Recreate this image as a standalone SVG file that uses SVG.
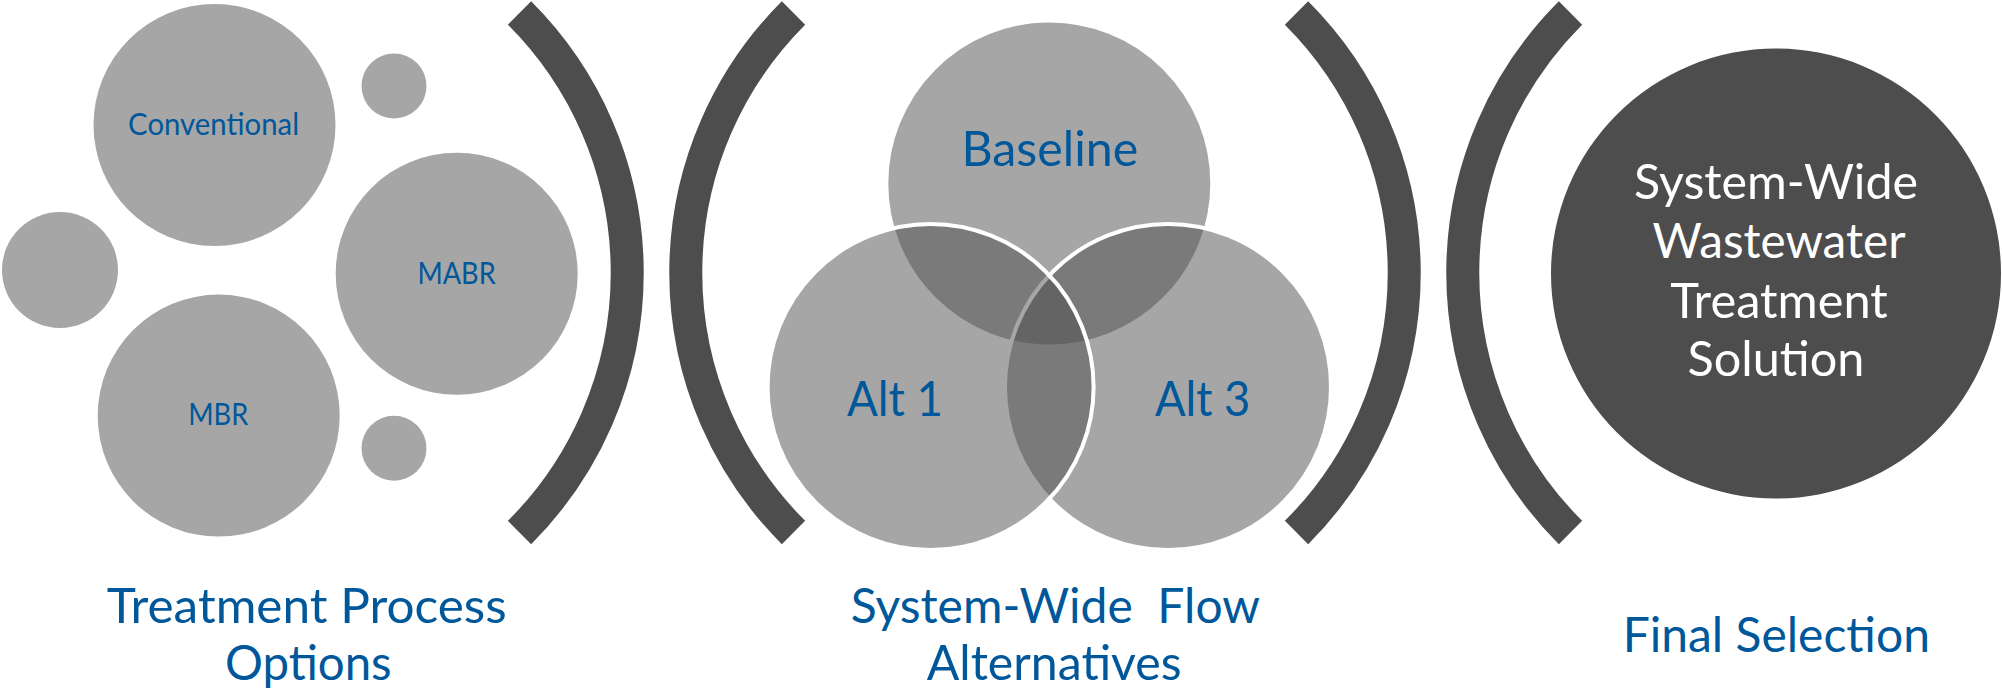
<svg xmlns="http://www.w3.org/2000/svg" width="2002" height="693" viewBox="0 0 2002 693">
<style>
.g{fill:#A6A6A6}
.v{fill:#4D4D4D;fill-opacity:0.5;stroke:#FFFFFF;stroke-width:4}
.br{fill:none;stroke:#4D4D4D;stroke-width:33;stroke-linecap:butt}
.t{font-family:Lato,"Liberation Sans",sans-serif;fill:#00579A;text-anchor:middle}
.s{font-size:31px}
.b{font-size:48px}
.w{font-family:Lato,"Liberation Sans",sans-serif;fill:#FFFFFF;text-anchor:middle;font-size:48px}
</style>
<rect width="2002" height="693" fill="#FFFFFF"/>
<g id="treatment-options">
  <g id="conventional"><circle class="g" cx="214.5" cy="125" r="121"/><text class="t s" x="213.6" y="135" textLength="171" lengthAdjust="spacingAndGlyphs">Conventional</text></g>
  <g id="small-top"><circle class="g" cx="394" cy="86" r="32.5"/></g>
  <g id="small-left"><circle class="g" cx="60" cy="270" r="58"/></g>
  <g id="mabr"><circle class="g" cx="456.7" cy="273.7" r="121"/><text class="t s" x="456.6" y="283.6" textLength="78.3" lengthAdjust="spacingAndGlyphs">MABR</text></g>
  <g id="mbr"><circle class="g" cx="218.7" cy="415.6" r="121"/><text class="t s" x="218.3" y="425" textLength="60.1" lengthAdjust="spacingAndGlyphs">MBR</text></g>
  <g id="small-bottom"><circle class="g" cx="394" cy="448.3" r="32.5"/></g>
</g>
<g id="brackets">
  <path class="br" d="M519.5 13 A367 367 0 0 1 519.5 532.5"/>
  <path class="br" d="M793.5 13 A367 367 0 0 0 793.5 532.5"/>
  <path class="br" d="M1296.5 13 A367 367 0 0 1 1296.5 532.5"/>
  <path class="br" d="M1570.5 13 A367 367 0 0 0 1570.5 532.5"/>
</g>
<g id="venn">
  <g id="baseline"><circle class="v" cx="1049.3" cy="183.5" r="163"/></g>
  <g id="alt3"><circle class="v" cx="1168" cy="387" r="163"/></g>
  <g id="alt1"><circle class="v" cx="930.6" cy="387" r="163"/></g>
  <text class="t b" x="1049.9" y="165.8" textLength="176.8" lengthAdjust="spacingAndGlyphs">Baseline</text>
  <text class="t b" x="895" y="415.6" textLength="96" lengthAdjust="spacingAndGlyphs">Alt 1</text>
  <text class="t b" x="1202.6" y="415.6" textLength="95.4" lengthAdjust="spacingAndGlyphs">Alt 3</text>
</g>
<g id="final-solution">
  <circle cx="1776" cy="273.5" r="225" fill="#4D4D4D"/>
  <text class="w" x="1776" y="198.5" textLength="284" lengthAdjust="spacingAndGlyphs">System-Wide</text>
  <text class="w" x="1779" y="258.4" textLength="253" lengthAdjust="spacingAndGlyphs">Wastewater</text>
  <text class="w" x="1779" y="317.7" textLength="217.6" lengthAdjust="spacingAndGlyphs">Treatment</text>
  <text class="w" x="1776" y="376.2" textLength="177" lengthAdjust="spacingAndGlyphs">Solution</text>
</g>
<g id="labels">
  <text class="t b" x="306.7" y="622.7" textLength="400" lengthAdjust="spacingAndGlyphs">Treatment Process</text>
  <text class="t b" x="308.3" y="680" textLength="166.7" lengthAdjust="spacingAndGlyphs">Options</text>
  <text class="t b" x="1055.3" y="623.3" xml:space="preserve" style="white-space:pre" textLength="409.3" lengthAdjust="spacingAndGlyphs">System-Wide  Flow</text>
  <text class="t b" x="1054.2" y="680" textLength="255" lengthAdjust="spacingAndGlyphs">Alternatives</text>
  <text class="t b" x="1776.3" y="651.5" textLength="307.3" lengthAdjust="spacingAndGlyphs">Final Selection</text>
</g>
</svg>
